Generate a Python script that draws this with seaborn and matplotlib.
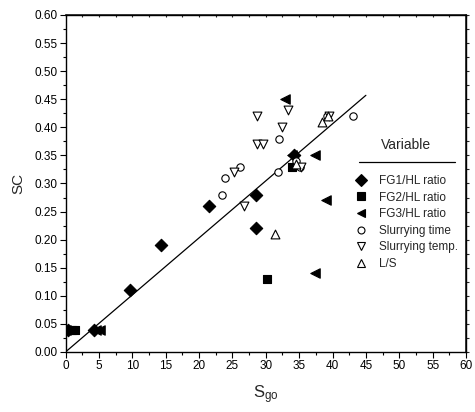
import matplotlib
matplotlib.use("Agg")
import matplotlib.pyplot as plt
from matplotlib.lines import Line2D
from matplotlib.ticker import MultipleLocator, FormatStrFormatter
import seaborn as sns
import pandas as pd

sns.set_theme(style="ticks")
plt.rcParams["font.family"] = ["Liberation Sans", "DejaVu Sans"]
plt.rcParams["mathtext.fontset"] = "custom"
plt.rcParams["mathtext.rm"] = "Liberation Sans"
plt.rcParams["mathtext.it"] = "Liberation Sans"

# Measured points, grouped by the varied preparation variable
fg1_x = [0.3, 4.2, 9.6, 14.3, 21.5, 28.5, 28.6, 34.3]
fg1_y = [0.04, 0.04, 0.11, 0.19, 0.26, 0.28, 0.22, 0.35]

fg2_x = [0.9, 1.4, 30.2, 33.9]
fg2_y = [0.04, 0.04, 0.13, 0.33]

fg3_x = [0.1, 4.6, 5.1, 34.0, 37.4, 39.0, 37.4, 32.9]
fg3_y = [0.04, 0.04, 0.04, 0.35, 0.35, 0.27, 0.14, 0.45]

time_x = [23.4, 23.9, 26.1, 31.9, 32.0, 34.6, 35.2, 43.0, 39.2]
time_y = [0.28, 0.31, 0.33, 0.32, 0.38, 0.34, 0.33, 0.42, 0.42]

temp_x = [25.2, 26.8, 28.7, 28.7, 29.6, 32.4, 33.3, 39.5, 35.3]
temp_y = [0.32, 0.26, 0.42, 0.37, 0.37, 0.40, 0.43, 0.42, 0.33]

ls_x = [31.4, 38.5, 39.4, 34.5]
ls_y = [0.21, 0.41, 0.42, 0.335]

# Fitted trend line
fit_x = [0.0, 45.0]
fit_y = [0.0, 0.457]

series = [
    ("FG1/HL ratio", fg1_x, fg1_y, "D", True, 40),
    ("FG2/HL ratio", fg2_x, fg2_y, "s", True, 32),
    ("FG3/HL ratio", fg3_x, fg3_y, "<", True, 46),
    ("Slurrying time", time_x, time_y, "o", False, 28),
    ("Slurrying temp.", temp_x, temp_y, "v", False, 40),
    ("L/S", ls_x, ls_y, "^", False, 40),
]

fig = plt.figure(figsize=(4.75, 4.12), dpi=100)
ax = fig.add_axes([65.5 / 475, 1 - 352 / 412, 400.5 / 475, 337 / 412])

sns.lineplot(x=fit_x, y=fit_y, ax=ax, color="black", linewidth=0.9)

handles = []
for label, xs, ys, mk, filled, size in series:
    df = pd.DataFrame({"Sgo": xs, "SC": ys})
    sns.scatterplot(
        data=df, x="Sgo", y="SC", ax=ax, marker=mk, s=size,
        facecolor="black" if filled else "white",
        edgecolor="black", linewidth=0.8, zorder=3, legend=False,
    )
    handles.append(Line2D([], [], linestyle="none", marker=mk,
                          markersize=6 if mk != "o" else 5,
                          markerfacecolor="black" if filled else "white",
                          markeredgecolor="black", markeredgewidth=0.8,
                          label=label))

ax.set_xlim(0, 60)
ax.set_ylim(0, 0.60)
ax.xaxis.set_major_locator(MultipleLocator(5))
ax.xaxis.set_minor_locator(MultipleLocator(2.5))
ax.yaxis.set_major_locator(MultipleLocator(0.05))
ax.yaxis.set_minor_locator(MultipleLocator(0.025))
ax.yaxis.set_major_formatter(FormatStrFormatter("%.2f"))

for s in ax.spines.values():
    s.set_linewidth(1.0)
    s.set_color("black")

ax.tick_params(which="major", direction="out", length=4, width=0.8,
               labelsize=8.5, colors="black", pad=2)
ax.tick_params(which="minor", direction="out", length=2.5, width=0.8,
               colors="black")

# short ticks along top and right frame edges
top = ax.secondary_xaxis("top")
top.xaxis.set_major_locator(MultipleLocator(2.5))
top.tick_params(direction="in", length=1.5, width=0.8, labeltop=False)
right = ax.secondary_yaxis("right")
right.yaxis.set_major_locator(MultipleLocator(0.025))
right.tick_params(direction="out", length=2, width=0.8, labelright=False)

ax.set_ylabel("SC", fontsize=11, labelpad=6)
ax.set_xlabel(r"$\mathregular{S_{go}}$", fontsize=12, labelpad=8)

# legend block: title, rule beneath it, then the marker entries
fig.text(406 / 475, 1 - 145 / 412, "Variable", fontsize=10,
         ha="center", va="center")
fig.add_artist(Line2D([359 / 475, 455 / 475], [1 - 162 / 412] * 2,
                      color="black", linewidth=0.9))
leg = ax.legend(handles=handles, frameon=False,
                loc="upper left", bbox_to_anchor=(355 / 475, 1 - 175 / 412),
                bbox_transform=fig.transFigure, fontsize=8.5,
                handletextpad=1.05, labelspacing=0.39,
                handlelength=1.0, borderaxespad=0, borderpad=0)

fig.savefig("out.png", dpi=100)
